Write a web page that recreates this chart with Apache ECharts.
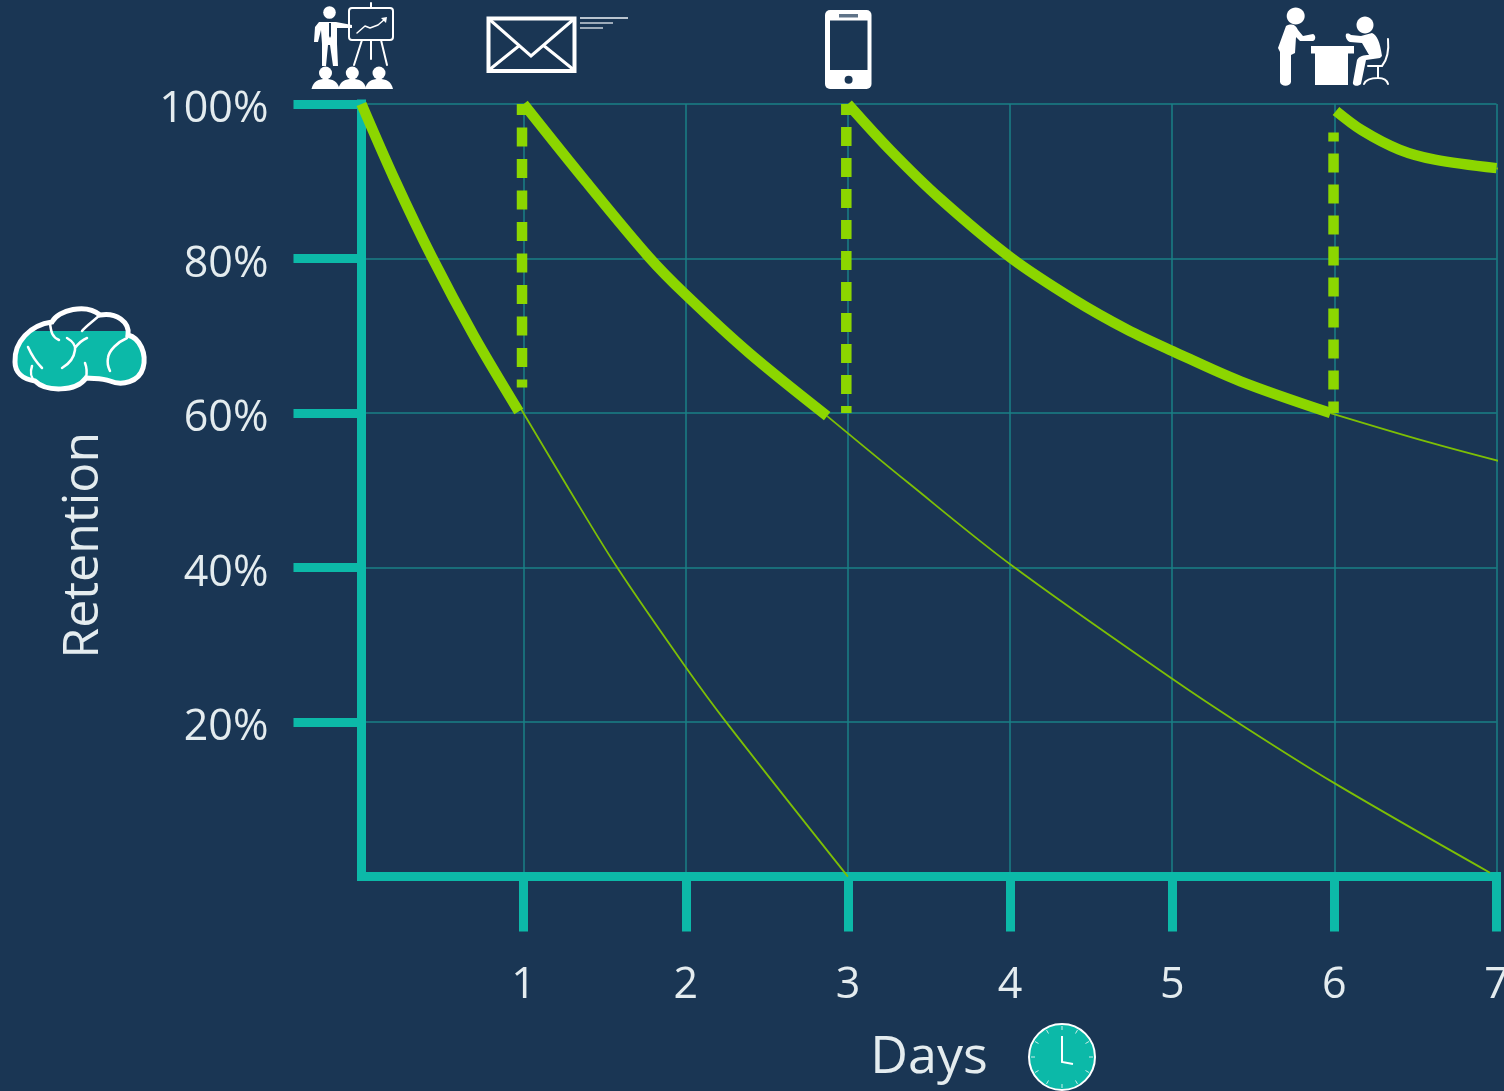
<!DOCTYPE html>
<html lang="en">
<head>
<meta charset="UTF-8">
<title>Retention over days</title>
<script src="https://cdn.jsdelivr.net/npm/echarts@6/dist/echarts.min.js"></script>
<style>
  html, body { margin: 0; padding: 0; background: #1a3654; }
  #chart { width: 1504px; height: 1091px; }
</style>
</head>
<body>
<div id="chart"></div>
<script>
// ticks
const dayTicks = [1, 2, 3, 4, 5, 6, 7];
const retentionTicks = [20, 40, 60, 80, 100];

// forgetting curves as [day, retention %]
const thickCurve1 = [[0, 100], [0.205, 90.2], [0.436, 80.1], [0.693, 70], [0.97, 60.2]];
const thinCurve1 = [[0.97, 61], [1.278, 50.2], [1.577, 40], [2, 27.1], [2.249, 20], [3, 0]];
const thickCurve2 = [[1, 100], [1.382, 90], [1.772, 80.2], [2, 75.3], [2.389, 67.8], [2.872, 59.6]];
const thinCurve2 = [[2.872, 59.6], [3.37, 51], [4.015, 40.2], [5, 25.6], [5.43, 19.6], [6, 12.1], [6.96, 0.5]];
const thickCurve3 = [[3, 100], [3.262, 94], [3.571, 87.7], [4.005, 80.1], [4.393, 74.7], [4.722, 70.8], [5.004, 68], [5.421, 64.1], [5.976, 60]];
const thinCurve3 = [[5.976, 60], [6.57, 56.3], [7.05, 53.6]];
const thickCurve4 = [[6.01, 99.1], [6.17, 96.6], [6.4, 94.1], [6.62, 92.8], [7, 91.7]];
const thinCurve4 = [[7, 91.7], [7.05, 91.2]];

// refresher drops
const refresher1 = [[0.99, 100], [0.99, 63.3]];
const refresher2 = [[2.99, 100], [2.99, 60]];
const refresher3 = [[5.995, 96.3], [5.995, 60]];

const bg = '#1a3654';
const teal = '#0cb9a8';
const gridTeal = '#1a8086';
const green = '#8cd600';
const thinGreen = '#7dbf05';
const textColor = '#e4ecef';
const font = '"Open Sans", sans-serif';

function thick(data) {
  return { type: 'line', data, symbol: 'none', smooth: 0.33, clip: false, z: 4,
    lineStyle: { color: green, width: 10.5, cap: 'butt' } };
}
function thin(data) {
  return { type: 'line', data, symbol: 'none', smooth: 0.33, clip: false, z: 3,
    lineStyle: { color: thinGreen, width: 1.8 } };
}
function dashed(data, gap, offset) {
  return { type: 'line', data, symbol: 'none', clip: false, z: 3,
    lineStyle: { color: green, width: 10.5, type: [19, gap], dashOffset: offset, cap: 'butt' } };
}

// icons, plain decoration above the chart
const W = { fill: '#fff' };
const L = (w, c) => ({ stroke: c || '#fff', lineWidth: w, fill: null, lineCap: 'round', lineJoin: 'round' });
// graphic has no path type, so every svg path gets registered as its own shape
let shapeCount = 0;
function path(d, style) {
  const name = 'iconPath' + shapeCount++;
  echarts.graphic.registerShape(name, echarts.graphic.extendPath(d));
  return { type: name, style };
}

const presenter = [
  { type: 'circle', shape: { cx: 329.5, cy: 12.5, r: 6.3 }, style: W },
  path('M319 22 L336 22 L352 25 L352 28 L337 28 L337 44 L338 66 L333 66 L330 45 L328 45 L326 66 L322 66 L322 44 L321 30 L318 42 L314 42 L315 27 Z', W),
  path('M329 23 L331 23 L331 36 L330 38 L329 36 Z', { fill: bg }),
  { type: 'rect', shape: { x: 349, y: 8, width: 44, height: 32, r: 3 }, style: L(2) },
  path('M371 3 L371 8 M362 40 L354 65 M371 40 L371 59 M381 40 L387 65', L(2)),
  path('M357 33 L365 26 L370 28 L378 25 L385 19', L(1.5)),
  path('M381 18 L387 17 L386 23 Z', W)
];
[325.5, 352.3, 379].forEach(cx => {
  presenter.push({ type: 'circle', shape: { cx, cy: 73, r: 6.5 }, style: W });
  presenter.push(path(`M${cx - 14} 89 C${cx - 12} 81 ${cx - 7} 79 ${cx} 79 C${cx + 7} 79 ${cx + 12} 81 ${cx + 14} 89 Z`, W));
});

const envelope = [
  { type: 'rect', shape: { x: 488.5, y: 18.5, width: 86, height: 52.5 }, style: { stroke: '#fff', lineWidth: 4, fill: null } },
  path('M489 19 L531 56 L574 19 M489 70 L520 45 M574 70 L543 45', { stroke: '#fff', lineWidth: 3, fill: null }),
  path('M580 18 L628 18', { stroke: '#b9c4cf', lineWidth: 2, fill: null }),
  path('M580 23 L613 23', { stroke: '#9eabb9', lineWidth: 2, fill: null }),
  path('M580 28 L603 28', { stroke: '#9eabb9', lineWidth: 2, fill: null })
];

const phone = [
  { type: 'rect', shape: { x: 825, y: 10, width: 46.5, height: 79, r: 5 }, style: W },
  { type: 'rect', shape: { x: 830, y: 20.5, width: 37.5, height: 49.5 }, style: { fill: bg } },
  { type: 'rect', shape: { x: 839, y: 14, width: 19, height: 3.5 }, style: { fill: '#5f7388' } },
  { type: 'circle', shape: { cx: 848.6, cy: 79.7, r: 4 }, style: { fill: bg } }
];

const meeting = [
  { type: 'ellipse', shape: { cx: 1295.7, cy: 16, rx: 9, ry: 8.5 }, style: W },
  path('M1286 26 C1292 23 1296 25 1298 30 L1303 36 L1313 34 C1316 35 1316 40 1313 41 L1300 41 L1296 37 L1295 53 L1291 55 L1291 82 C1290 87 1281 87 1280 82 L1280 52 L1278 48 Z', W),
  { type: 'rect', shape: { x: 1311, y: 46, width: 43, height: 7.5 }, style: W },
  { type: 'rect', shape: { x: 1315, y: 53, width: 33, height: 32 }, style: W },
  { type: 'ellipse', shape: { cx: 1365, cy: 25, rx: 8.5, ry: 8.5 }, style: W },
  path('M1346 34 C1348 33 1350 34 1351 35 L1361 36 L1372 33 C1377 35 1380 42 1382 56 L1380 58 L1366 60 L1361 84 C1358 87 1352 86 1353 82 L1357 60 C1359 56 1364 55 1369 55 L1362 43 L1350 42 C1347 41 1345 37 1346 34 Z', W),
  path('M1388 39 C1389 50 1387 60 1382 66 L1368 66 M1378 66 L1378 77 M1364 84 C1366 79 1372 78 1378 78 C1384 78 1387 80 1388 84', L(2))
];

const brainOutline = 'M15 362 C14 342 30 325 52 322 C58 310 86 303 100 315 C116 312 130 322 128 335 C140 338 147 354 143 368 C139 382 122 386 110 381 C102 378 95 379 86 378 C76 392 46 392 35 381 C22 379 15 372 15 362 Z';
const brain = [
  path(brainOutline, { fill: teal }),
  { type: 'rect', shape: { x: 17, y: 305, width: 125, height: 26 }, style: { fill: bg } },
  path(brainOutline, { stroke: '#fff', lineWidth: 5, fill: null }),
  path('M50 323 C51 332 52 337 59 340 M82 331 C85 327 92 322 100 315 M28 347 C32 356 37 363 42 368 M32 366 C30 372 31 378 35 381', L(2.5)),
  path('M67 338 C72 341 76 345 75 350 C74 358 69 364 62 368 M75 348 C78 344 82 340 87 338 M85 363 C87 368 87 373 86 378', L(2.5)),
  path('M127 338 C118 342 109 350 108 358 C107 363 108 367 110 371', L(2.5))
];

const clockTicks = [];
for (const [dx, dy] of [[0, -1], [0.5, -0.87], [0.87, -0.5], [1, 0], [0.87, 0.5], [0.5, 0.87], [0, 1], [-0.5, 0.87], [-0.87, 0.5], [-1, 0], [-0.87, -0.5], [-0.5, -0.87]]) {
  clockTicks.push({ type: 'line', shape: { x1: 1062 + dx * 27, y1: 1057 + dy * 27, x2: 1062 + dx * 31, y2: 1057 + dy * 31 }, style: { stroke: '#cdeee9', lineWidth: 1 } });
}
const clock = [
  { type: 'circle', shape: { cx: 1062, cy: 1057, r: 33 }, style: { fill: teal, stroke: '#fff', lineWidth: 2 } },
  ...clockTicks,
  path('M1062 1036 L1062 1062 L1073 1064', { stroke: '#fff', lineWidth: 2, fill: null })
];

const chart = echarts.init(document.getElementById('chart'));
chart.setOption({
  backgroundColor: bg,
  animation: false,
  grid: { left: 361.5, top: 104, width: 1135, height: 772.6, outerBoundsMode: 'none' },
  xAxis: {
    type: 'value', min: 0, max: 7, interval: 1,
    name: 'Days', nameLocation: 'middle', nameGap: 156,
    nameTextStyle: { color: textColor, fontFamily: font, fontSize: 52, fontWeight: 400 },
    axisLine: { lineStyle: { color: teal, width: 9, cap: 'square' } },
    axisTick: { length: 55, customValues: dayTicks, lineStyle: { color: teal, width: 9 } },
    axisLabel: { customValues: dayTicks, color: textColor, fontFamily: font, fontSize: 43, fontWeight: 400, margin: 88 },
    splitLine: { show: true, lineStyle: { color: gridTeal, width: 1.5 } }
  },
  yAxis: {
    type: 'value', min: 0, max: 100, interval: 20,
    name: 'Retention', nameLocation: 'middle', nameRotate: 90, nameGap: 253,
    nameTextStyle: { color: textColor, fontFamily: font, fontSize: 50, fontWeight: 400, padding: [0, 110, 0, 0] },
    axisLine: { lineStyle: { color: teal, width: 9, cap: 'square' } },
    axisTick: { length: 68, customValues: retentionTicks, lineStyle: { color: teal, width: 9 } },
    axisLabel: { customValues: retentionTicks, formatter: '{value}%', color: textColor, fontFamily: font, fontSize: 43, fontWeight: 400, margin: 93, verticalAlign: 'top', lineHeight: 12 },
    splitLine: { show: true, lineStyle: { color: gridTeal, width: 1.5 } }
  },
  series: [
    thin(thinCurve1), thin(thinCurve2), thin(thinCurve3), thin(thinCurve4),
    dashed(refresher1, 12.5, 8), dashed(refresher2, 12, 8), dashed(refresher3, 12, 10),
    thick(thickCurve1), thick(thickCurve2), thick(thickCurve3), thick(thickCurve4)
  ],
  graphic: [...presenter, ...envelope, ...phone, ...meeting, ...brain, ...clock]
});
</script>
</body>
</html>
